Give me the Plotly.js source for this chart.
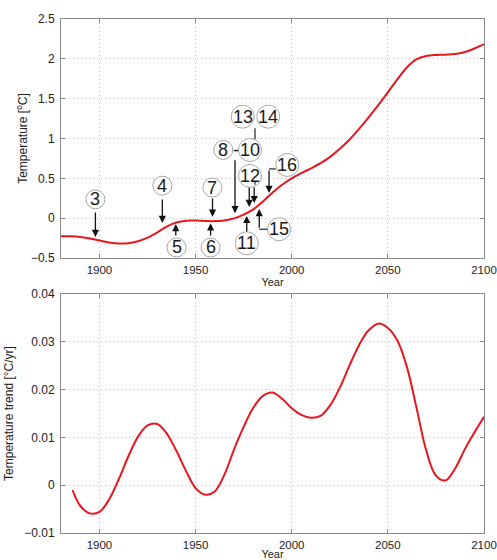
<!DOCTYPE html>
<html>
<head>
<meta charset="utf-8">
<script src="https://cdn.plot.ly/plotly-3.0.1.min.js"></script>
<style>html,body{margin:0;padding:0;background:#fff;}#chart{width:497px;height:560px;}</style>
</head>
<body>
<div id="chart"></div>
<script>
// Top panel: temperature
const tempYears = [1880,1885,1890,1895,1900,1905,1910,1915,1920,1925,1930,1935,1940,1945,1950,1955,1960,1965,1970,1975,1980,1985,1990,1995,2000,2005,2010,2015,2020,2025,2030,2035,2040,2045,2050,2055,2060,2065,2070,2075,2080,2085,2090,2095,2100];
const tempValues = [-0.228,-0.228,-0.235,-0.255,-0.28,-0.305,-0.318,-0.315,-0.29,-0.245,-0.18,-0.105,-0.055,-0.032,-0.03,-0.035,-0.037,-0.028,-0.003,0.045,0.11,0.21,0.32,0.42,0.50,0.565,0.625,0.69,0.77,0.87,0.985,1.12,1.265,1.42,1.58,1.745,1.895,1.995,2.035,2.048,2.052,2.06,2.085,2.13,2.185];

// Bottom panel: temperature trend
const trendYears = [1886,1890,1895,1900,1905,1910,1915,1920,1925,1930,1935,1940,1945,1950,1955,1960,1965,1970,1975,1980,1985,1990,1995,2000,2005,2010,2015,2020,2025,2030,2035,2040,2045,2050,2055,2060,2065,2070,2075,2080,2085,2090,2095,2100];
const trendValues = [-0.001,-0.0043,-0.0059,-0.0056,-0.0030,0.0012,0.0060,0.0101,0.0125,0.0128,0.0108,0.0072,0.0030,-0.0006,-0.0020,-0.0013,0.0022,0.0075,0.0122,0.0162,0.0187,0.0194,0.0181,0.0161,0.0147,0.0141,0.0145,0.0167,0.0204,0.0250,0.0293,0.0324,0.0338,0.0329,0.0302,0.0246,0.0160,0.0072,0.0020,0.0010,0.0035,0.0075,0.0110,0.0143];

// Tick labels
const xTicks = [1900,1950,2000,2050,2100];
const tempTicks = [-0.5,0,0.5,1,1.5,2,2.5];
const trendTicks = [-0.01,0,0.01,0.02,0.03,0.04];

// Numbered event labels (circles) in data coordinates of the top panel
const labelText = ['3','4','5','6','7','8','-','10','11','12','13','14','15','16'];
const labelX    = [1897.9,1932.7,1940.1,1957.8,1958.7,1964.4,1971.1,1978.3,1976.6,1978.3,1974.5,1987.8,1993.4,1997.7];
const labelY    = [0.237,0.408,-0.368,-0.368,0.385,0.856,0.856,0.856,-0.315,0.53,1.274,1.274,-0.139,0.668];

// Straight arrows: x, tail y, tip y
const arrowX    = [1897.9,1932.7,1939.7,1957.8,1958.8,1970.5,1977.9,1980.5,1976.6,1983.1,1988.2];
const arrowTail = [0.09,0.254,-0.236,-0.236,0.266,0.745,0.404,0.404,-0.185,-0.139,0.618];
const arrowTip  = [-0.235,-0.06,-0.073,-0.064,0.019,0.062,0.14,0.19,0.028,0.115,0.316];

// Connector segments [x0,y0,x1,y1]
const connectors = [
  [1980.9,1.13,1980.9,0.99],
  [1980.9,0.47,1980.9,0.42],
  [1983.1,-0.139,1987.4,-0.139],
  [1988.2,0.618,1991.6,0.618]
];

const font = 'Liberation Sans, Arial, Helvetica, sans-serif';
const red = '#e8161e';

const traces = [
  {x: tempYears, y: tempValues, xaxis:'x', yaxis:'y', mode:'lines', line:{color:red, width:2, shape:'spline', smoothing:1}, hoverinfo:'skip'},
  {x: trendYears, y: trendValues, xaxis:'x2', yaxis:'y2', mode:'lines', line:{color:red, width:2, shape:'spline', smoothing:1}, hoverinfo:'skip'}
];

const axisCommon = {
  showline:true, linecolor:'#8a8a8a', linewidth:1, mirror:'ticks',
  ticks:'inside', ticklen:4, tickcolor:'#8a8a8a',
  showgrid:true, gridcolor:'#bdbdbd', griddash:'1px,3px', gridwidth:1,
  zeroline:false, tickfont:{family:font, size:12, color:'#222'}
};

const shapes = [];
const annotations = [];
for (let i=0;i<labelText.length;i++){
  if (labelText[i] !== '-') {
    const r = labelText[i].length>1 ? 11.5 : 9.5;
    shapes.push({type:'circle', xref:'x', yref:'y', xsizemode:'pixel', ysizemode:'pixel',
      xanchor:labelX[i], yanchor:labelY[i], x0:-r, x1:r, y0:-r, y1:r,
      line:{color:'#a8a8a8', width:1}, fillcolor:'white', layer:'above'});
  }
  annotations.push({xref:'x', yref:'y', x:labelX[i], y:labelY[i], text:labelText[i], showarrow:false,
    font:{family:font, size:18, color:'#1a1a1a'}, xanchor:'center', yanchor:'middle'});
}
for (const c of connectors){
  shapes.push({type:'line', xref:'x', yref:'y', x0:c[0], y0:c[1], x1:c[2], y1:c[3], line:{color:'#222', width:1.2}});
}
for (let i=0;i<arrowX.length;i++){
  annotations.push({xref:'x', yref:'y', axref:'x', ayref:'y', x:arrowX[i], y:arrowTip[i], ax:arrowX[i], ay:arrowTail[i],
    text:'', showarrow:true, arrowhead:2, arrowsize:1.1, arrowwidth:1.3, arrowcolor:'#111', standoff:0, startstandoff:0});
}

const xCommon = {domain:[0,1], range:[1880,2100], tickvals:xTicks, ticklabelstandoff:1, ticklabeloverflow:'allow',
  tickfont:{family:font, size:11.5, color:'#222'}};

const layout = {
  width:497, height:560, showlegend:false,
  paper_bgcolor:'#fff', plot_bgcolor:'#fff',
  margin:{l:61, r:13, t:19, b:27},
  font:{family:font, color:'#222'},
  xaxis: Object.assign({}, axisCommon, xCommon, {anchor:'y',
    title:{text:'Year', font:{family:font, size:11, color:'#222'}, standoff:0}}),
  yaxis: Object.assign({}, axisCommon, {domain:[0.535,1], range:[-0.5,2.5], tickvals:tempTicks, anchor:'x', ticklabelstandoff:3,
    title:{text:'Temperature [<sup>o</sup>C]', font:{family:font, size:12, color:'#222'}}}),
  xaxis2: Object.assign({}, axisCommon, xCommon, {anchor:'y2',
    title:{text:'Year', font:{family:font, size:11, color:'#222'}, standoff:0}}),
  yaxis2: Object.assign({}, axisCommon, {domain:[0,0.465], range:[-0.01,0.04], tickvals:trendTicks, anchor:'x2', ticklabelstandoff:3,
    title:{text:'Temperature trend [°C/yr]', font:{family:font, size:12, color:'#222'}, standoff:8}}),
  shapes: shapes,
  annotations: annotations
};

Plotly.newPlot('chart', traces, layout, {displayModeBar:false, staticPlot:true});
</script>
</body>
</html>
